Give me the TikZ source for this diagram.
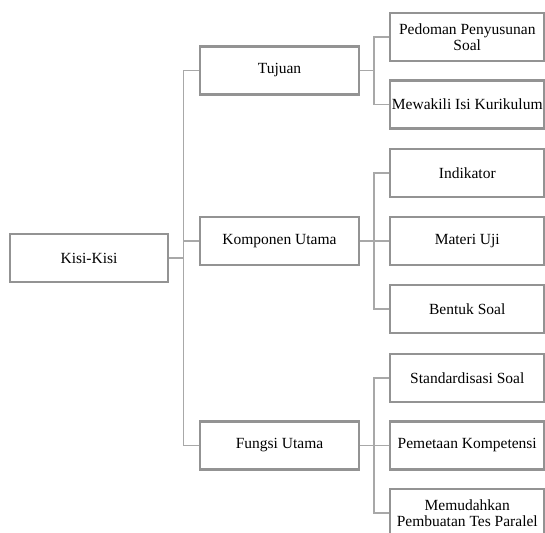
\documentclass[tikz,border=0pt]{standalone}
\usepackage{fontspec}
\setmainfont{Liberation Serif}
\definecolor{boxgray}{HTML}{939393}
\definecolor{linegray}{HTML}{A8A8A8}
\begin{document}
\begin{tikzpicture}[x=1pt,y=-1pt,
  box/.style={draw=boxgray, line width=2.5pt, fill=white, rectangle, inner sep=0pt,
    minimum height=48pt, align=center, font=\fontsize{15.5}{16}\selectfont},
  topbox/.style={box, minimum width=159pt},
  leafbox/.style={box, minimum width=154.5pt},
  conn/.style={draw=linegray, line width=1.8pt}]
\useasboundingbox (0,0) rectangle (545,532);
% root
\node[box, minimum width=158pt] (kisi) at (89,258) {Kisi-Kisi};
% level 1
\node[topbox] (tuj) at (279.5,70.5) {Tujuan};
\node[topbox] (kom) at (279.5,241) {Komponen Utama};
\node[topbox] (fun) at (279.5,445.5) {Fungsi Utama};
% leaves
\node[leafbox] (ped) at (467.25,37) {Pedoman Penyusunan\\Soal};
\node[leafbox] (mew) at (467.25,104.5) {Mewakili Isi Kurikulum};
\node[leafbox] (ind) at (467.25,173) {Indikator};
\node[leafbox] (mat) at (467.25,241) {Materi Uji};
\node[leafbox] (ben) at (467.25,309) {Bentuk Soal};
\node[leafbox] (sta) at (467.25,378) {Standardisasi Soal};
\node[leafbox] (pem) at (467.25,445.5) {Pemetaan Kompetensi};
\node[leafbox] (mem) at (467.25,513) {Memudahkan\\Pembuatan Tes Paralel};
% trunk coordinates
\coordinate (t0) at (183.5,0);
\coordinate (t1) at (374,0);
% level 0 -> 1
\draw[conn] (kisi.east) -- (kisi.east -| t0);
\draw[conn] (tuj.west) -- (tuj.west -| t0) -- (fun.west -| t0) -- (fun.west);
\draw[conn] (kom.west) -- (kom.west -| t0);
% Tujuan
\draw[conn] (tuj.east) -- (tuj.east -| t1);
\draw[conn] (ped.west) -- (ped.west -| t1) -- (mew.west -| t1) -- (mew.west);
% Komponen
\draw[conn] (kom.east) -- (kom.east -| t1);
\draw[conn] (ind.west) -- (ind.west -| t1) -- (ben.west -| t1) -- (ben.west);
\draw[conn] (mat.west) -- (mat.west -| t1);
% Fungsi
\draw[conn] (fun.east) -- (fun.east -| t1);
\draw[conn] (sta.west) -- (sta.west -| t1) -- (mem.west -| t1) -- (mem.west);
\draw[conn] (pem.west) -- (pem.west -| t1);
\end{tikzpicture}
\end{document}
